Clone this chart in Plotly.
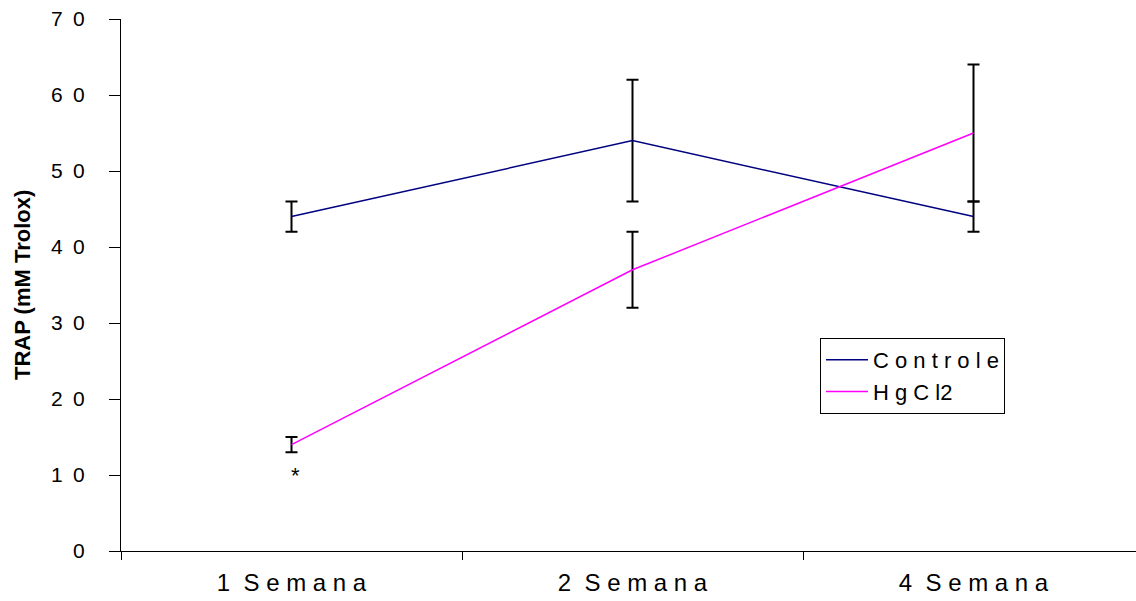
import plotly.graph_objects as go

# ---- data ----
categories = ["1 Semana", "2 Semana", "4 Semana"]
x_tick_labels = ["1\u00a0 S e m a n a", "2\u00a0 S e m a n a", "4\u00a0 S e m a n a"]

controle_mean = [44, 54, 44]
controle_err = [2, 8, 2]
hgcl2_mean = [14, 37, 55]
hgcl2_err = [1, 5, 9]

legend_labels = ["C o n t r o l e", "H g C l2"]
y_tick_vals = [0, 10, 20, 30, 40, 50, 60, 70]
y_tick_labels = ["0", "1\u20020", "2\u20020", "3\u20020", "4\u20020", "5\u20020", "6\u20020", "7\u20020"]
y_title = "TRAP (mM Trolox)"
star_category = "1 Semana"
star_value = 9.9

FONT = "Liberation Sans, Arial, sans-serif"

fig = go.Figure()
fig.add_trace(go.Scatter(
    x=categories, y=controle_mean, name=legend_labels[0], mode="lines",
    line=dict(color="#000080", width=1.5),
    error_y=dict(type="data", array=controle_err, visible=True,
                 color="black", thickness=2, width=6),
))
fig.add_trace(go.Scatter(
    x=categories, y=hgcl2_mean, name=legend_labels[1], mode="lines",
    line=dict(color="#FF00FF", width=1.5),
    error_y=dict(type="data", array=hgcl2_err, visible=True,
                 color="black", thickness=2, width=6),
))

fig.add_annotation(x=star_category, y=star_value, text="*", showarrow=False,
                   xshift=4, font=dict(family=FONT, size=22, color="black"),
                   xanchor="center", yanchor="middle")
fig.add_annotation(xref="paper", yref="paper", x=(22 - 121) / 1015, y=0.5,
                   text="<b>" + y_title + "</b>", textangle=-90, showarrow=False,
                   xanchor="center", yanchor="middle",
                   font=dict(family=FONT, size=22, color="black"))

fig.update_layout(
    width=1136, height=601,
    margin=dict(l=121, r=0, t=19, b=50),
    paper_bgcolor="white", plot_bgcolor="white",
    font=dict(family=FONT, color="black"),
    showlegend=True,
    legend=dict(x=(820 - 121) / 1015, y=(551 - 338) / 532, xanchor="left", yanchor="top",
                bordercolor="black", borderwidth=1, bgcolor="white", itemwidth=42,
                font=dict(family=FONT, size=22, color="black")),
)
fig.update_xaxes(
    type="category", range=[-0.5, -0.5 + 1015 / 341],
    tickmode="array", tickvals=categories, ticktext=x_tick_labels,
    tickson="boundaries", ticks="outside", ticklen=8, tickcolor="black",
    showline=True, linecolor="black", linewidth=1, showgrid=False, zeroline=False,
    tickfont=dict(family=FONT, size=24, color="black"), ticklabelstandoff=10,
)
fig.update_yaxes(
    range=[0, 70], tickmode="array", tickvals=y_tick_vals, ticktext=y_tick_labels,
    ticks="outside", ticklen=11, tickcolor="black",
    showline=True, linecolor="black", linewidth=1, showgrid=False, zeroline=False,
    tickfont=dict(family=FONT, size=21, color="black"), ticklabelstandoff=20,
)

fig.write_html("out.html")
